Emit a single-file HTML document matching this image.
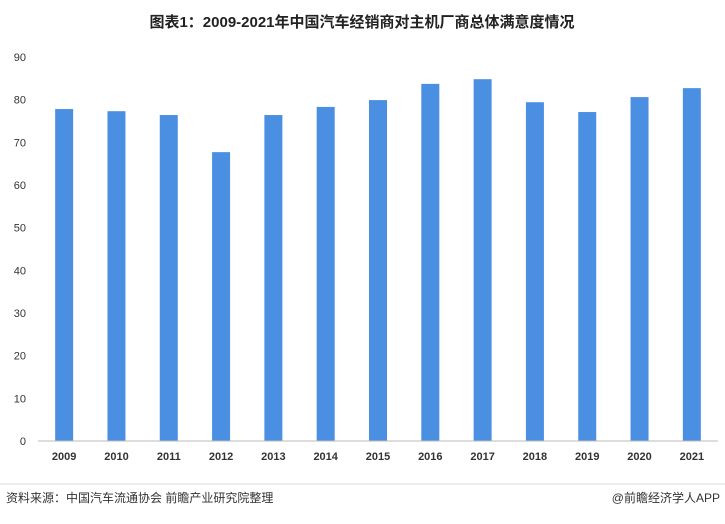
<!DOCTYPE html>
<html><head><meta charset="utf-8">
<style>
body{margin:0;background:#fff;width:725px;height:519px;overflow:hidden;font-family:"Liberation Sans","Noto Sans CJK SC",sans-serif;}
</style></head>
<body>
<svg id="c" width="725" height="519" xmlns="http://www.w3.org/2000/svg">
<text x="362" y="27" text-anchor="middle" font-size="15" font-weight="bold" fill="#222" font-family="Liberation Sans, Noto Sans CJK SC, sans-serif">图表1：2009-2021年中国汽车经销商对主机厂商总体满意度情况</text>
<line x1="0" y1="484" x2="725" y2="484" stroke="#ddd"/>
<text x="6" y="502" font-size="12" fill="#333" font-family="Liberation Sans, Noto Sans CJK SC, sans-serif">资料来源：中国汽车流通协会 前瞻产业研究院整理</text>
<text x="720" y="502" text-anchor="end" font-size="12" fill="#333" font-family="Liberation Sans, Noto Sans CJK SC, sans-serif">@前瞻经济学人APP</text>
</svg>
<script>
const categories=["2009","2010","2011","2012","2013","2014","2015","2016","2017","2018","2019","2020","2021"];
const values=[77.8,77.3,76.4,67.7,76.4,78.3,79.9,83.7,84.8,79.4,77.1,80.6,82.7];
const yTicks=[0,10,20,30,40,50,60,70,80,90];
const svg=document.getElementById('c');
const NS='http://www.w3.org/2000/svg';
const x0=38,x1=718,y0=441,yTop=57,yMax=90;
const y=v=>y0-(v/yMax)*(y0-yTop);
const step=(x1-x0)/categories.length;
const xc=i=>x0+step*(i+0.5);
function mk(t,a){const e=document.createElementNS(NS,t);for(const k in a)e.setAttribute(k,a[k]);svg.appendChild(e);return e;}
yTicks.forEach(t=>{
  const e=mk('text',{x:26,y:y(t)+4,'text-anchor':'end','font-size':11,fill:'#333'});
  e.textContent=t;
  
  
});
categories.forEach((c,i)=>{
  const b=mk('rect',{x:xc(i)-9,y:y(values[i]),width:18,height:y0-y(values[i]),fill:'#4a8fe2'});
  
  
  const t=mk('text',{x:xc(i),y:460,'text-anchor':'middle','font-size':11,'font-weight':'bold',fill:'#333'});
  t.textContent=c;
  
  
});
const ax=mk('line',{x1:x0,y1:y0,x2:x1,y2:y0,stroke:'#bbb'});


</script>
</body></html>
